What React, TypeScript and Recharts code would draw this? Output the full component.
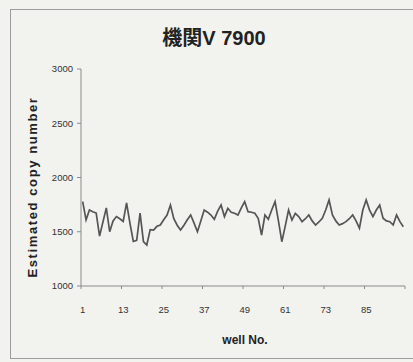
import { LineChart, Line, XAxis, YAxis } from "recharts";

const TITLE = "機関V 7900";
const Y_LABEL = "Estimated copy number";
const X_LABEL = "well No.";

const Y_TICKS = [1000, 1500, 2000, 2500, 3000];
// tick marks sit on category boundaries; labels show the well number after them
const X_TICKS = [0.5, 12.5, 24.5, 36.5, 48.5, 60.5, 72.5, 84.5, 96.5];

const COPY_NUMBERS = [
  1777, 1610, 1700, 1685, 1672, 1460, 1590, 1720, 1500, 1600, 1640, 1620,
  1595, 1765, 1580, 1410, 1420, 1672, 1410, 1378, 1520, 1516, 1550, 1562,
  1610, 1654, 1747, 1620, 1560, 1516, 1560, 1610, 1654, 1580, 1500, 1600,
  1700, 1680, 1654, 1615, 1690, 1747, 1640, 1716, 1680, 1670, 1654, 1720,
  1777, 1685, 1680, 1670, 1624, 1470, 1654, 1615, 1700, 1777, 1600, 1408,
  1550, 1700, 1608, 1670, 1640, 1593, 1620, 1654, 1600, 1562, 1590, 1624,
  1700, 1793, 1654, 1600, 1562, 1575, 1593, 1620, 1654, 1600, 1532, 1700,
  1793, 1700, 1640, 1700, 1747, 1624, 1600, 1593, 1562, 1654, 1593, 1547,
];

const data = COPY_NUMBERS.map((v, i) => ({ well: i + 1, copies: v }));

const FONT = '"Liberation Sans", Arial, sans-serif';

export default function App() {
  return (
    <div
      style={{
        position: "absolute",
        left: 0,
        top: 0,
        width: 413,
        height: 362,
        background: "#f2f2ef",
        fontFamily: FONT,
      }}
    >
      <div
        style={{
          position: "absolute",
          left: 10,
          top: 9,
          width: 410,
          height: 350,
          border: "1px solid #9c9c9c",
          boxSizing: "border-box",
        }}
      />
      <div
        style={{
          position: "absolute",
          left: 0,
          width: 428,
          top: 22,
          textAlign: "center",
          fontSize: 20,
          fontWeight: 700,
          color: "#222",
          fontFamily: '"Liberation Sans", "Noto Sans CJK JP", sans-serif',
        }}
      >
        {TITLE}
      </div>
      <div
        style={{
          position: "absolute",
          left: 32,
          top: 187,
          transform: "translate(-50%, -50%) rotate(-90deg)",
          whiteSpace: "nowrap",
          fontSize: 13,
          fontWeight: 700,
          letterSpacing: 1.6,
          color: "#222",
        }}
      >
        {Y_LABEL}
      </div>
      <div
        style={{
          position: "absolute",
          left: 245,
          top: 340,
          transform: "translate(-50%, -50%)",
          whiteSpace: "nowrap",
          fontSize: 12,
          fontWeight: 700,
          color: "#222",
        }}
      >
        {X_LABEL}
      </div>
      <div style={{ position: "absolute", left: 0, top: 0 }}>
        <LineChart
          width={413}
          height={362}
          data={data}
          margin={{ top: 69, right: 8, bottom: 46, left: 31 }}
        >
          <XAxis
            dataKey="well"
            type="number"
            domain={[0.5, 96.5]}
            ticks={X_TICKS}
            interval={0}
            tickFormatter={(v: number) => (v > 96 ? "" : String(v + 0.5))}
            height={30}
            stroke="#8a8a8a"
            tickSize={3}
            tickMargin={17}
            tick={{ fill: "#333", fontSize: 9.5, dx: 1.7 }}
            allowDataOverflow
          />
          <YAxis
            domain={[1000, 3000]}
            ticks={Y_TICKS}
            interval={0}
            width={50}
            stroke="#8a8a8a"
            tickSize={4}
            tickMargin={4}
            tick={{ fill: "#333", fontSize: 9.5 }}
          />
          <Line
            type="linear"
            dataKey="copies"
            stroke="#555"
            strokeWidth={1.7}
            dot={false}
            isAnimationActive={false}
          />
        </LineChart>
      </div>
    </div>
  );
}
